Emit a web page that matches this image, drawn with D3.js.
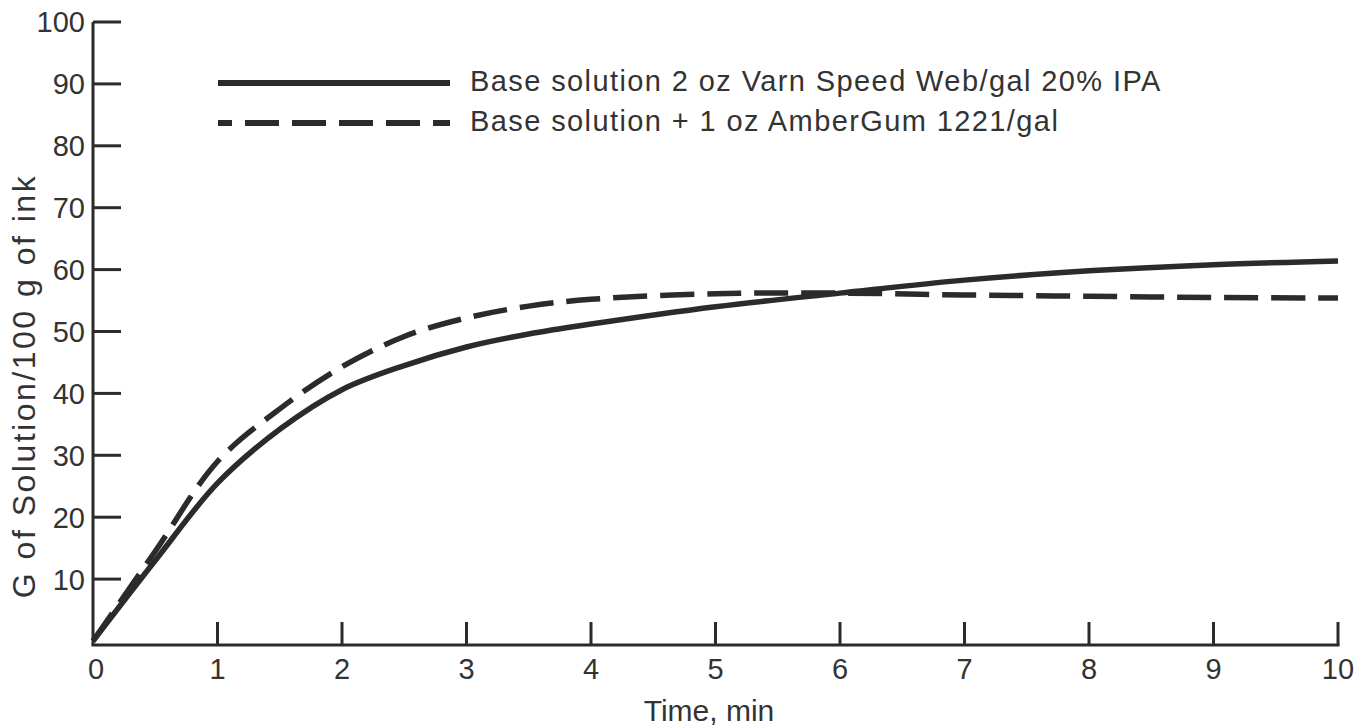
<!DOCTYPE html>
<html>
<head>
<meta charset="utf-8">
<script src="https://cdn.jsdelivr.net/npm/d3@7"></script>
<style>
  html, body { margin: 0; padding: 0; background: #fff; }
  svg { display: block; font-family: "Liberation Sans", Arial, Helvetica, sans-serif; }
</style>
</head>
<body>
<div id="chart"></div>
<script>
// Data
const time = [0, 0.5, 1, 1.5, 2, 2.5, 3, 3.5, 4, 5, 6, 7, 8, 9, 10];
const baseSolution = [0, 13, 25.5, 34.2, 40.6, 44.5, 47.5, 49.6, 51.2, 54.0, 56.2, 58.3, 59.8, 60.8, 61.4];
const withGum      = [0, 14.5, 29, 37.5, 44.3, 49.2, 52.2, 54.1, 55.2, 56.1, 56.2, 55.9, 55.7, 55.5, 55.4];
const xTicks = [0, 1, 2, 3, 4, 5, 6, 7, 8, 9, 10];
const yTicks = [10, 20, 30, 40, 50, 60, 70, 80, 90, 100];
const seriesNames = [
  'Base solution 2 oz Varn Speed Web/gal 20% IPA',
  'Base solution + 1 oz AmberGum 1221/gal'
];

const width = 1358, height = 728;
const ink = '#2b2b2b';
const dash = '34,13';

const svg = d3.select('#chart').append('svg')
  .attr('width', width)
  .attr('height', height);

// Scales
const x = d3.scaleLinear().domain([0, 10]).range([93, 1338]);
const y = d3.scaleLinear().domain([0, 100]).range([641, 22]);
const axisY = 645;

// Axis lines
svg.append('line')
  .attr('x1', x(0)).attr('x2', x(0))
  .attr('y1', y(100)).attr('y2', axisY)
  .attr('stroke', ink).attr('stroke-width', 3);
svg.append('line')
  .attr('x1', x(0) - 1.5).attr('x2', x(10) + 1.5)
  .attr('y1', axisY).attr('y2', axisY)
  .attr('stroke', ink).attr('stroke-width', 3);

// Y ticks (pointing inward) + labels
const yt = svg.append('g').selectAll('g').data(yTicks).join('g');
yt.append('line')
  .attr('x1', x(0)).attr('x2', x(0) + 28)
  .attr('y1', d => y(d)).attr('y2', d => y(d))
  .attr('stroke', ink).attr('stroke-width', 3);
yt.append('text')
  .attr('x', x(0) - 8)
  .attr('y', d => y(d))
  .attr('dy', '0.36em')
  .attr('text-anchor', 'end')
  .attr('font-size', 29)
  .attr('fill', '#333')
  .text(d => d);

// X ticks (pointing upward) + labels
const xt = svg.append('g').selectAll('g').data(xTicks).join('g');
xt.filter(d => d > 0).append('line')
  .attr('x1', d => x(d)).attr('x2', d => x(d))
  .attr('y1', axisY).attr('y2', axisY - 23)
  .attr('stroke', ink).attr('stroke-width', 3);
xt.append('text')
  .attr('x', d => x(d) + (d === 0 ? 3 : 0))
  .attr('y', 679)
  .attr('text-anchor', 'middle')
  .attr('font-size', 29)
  .attr('fill', '#333')
  .text(d => d);

// Axis titles
svg.append('text')
  .attr('x', 709).attr('y', 721)
  .attr('text-anchor', 'middle')
  .attr('font-size', 30)
  .attr('fill', '#333')
  .text('Time, min');

svg.append('text')
  .attr('transform', 'translate(35,386) rotate(-90)')
  .attr('text-anchor', 'middle')
  .attr('font-size', 32)
  .attr('letter-spacing', 2.5)
  .attr('fill', '#333')
  .text('G of Solution/100 g of ink');

// Curves
const line = d3.line()
  .x((d, i) => x(time[i]))
  .y(d => y(d))
  .curve(d3.curveCatmullRom.alpha(0.5));

svg.append('path')
  .datum(baseSolution)
  .attr('d', line)
  .attr('fill', 'none')
  .attr('stroke', ink)
  .attr('stroke-width', 5.5);

svg.append('path')
  .datum(withGum)
  .attr('d', line)
  .attr('fill', 'none')
  .attr('stroke', ink)
  .attr('stroke-width', 5.5)
  .attr('stroke-dasharray', dash);

// Legend
const legend = svg.append('g');
const legendY = [83, 123];
legend.selectAll('line').data(seriesNames).join('line')
  .attr('x1', 218).attr('x2', 450)
  .attr('y1', (d, i) => legendY[i]).attr('y2', (d, i) => legendY[i])
  .attr('stroke', ink)
  .attr('stroke-width', 6)
  .attr('stroke-dasharray', (d, i) => i === 1 ? dash : null)
  .attr('stroke-dashoffset', (d, i) => i === 1 ? 20 : null);
legend.selectAll('text').data(seriesNames).join('text')
  .attr('x', 470)
  .attr('y', (d, i) => legendY[i] + 8)
  .attr('font-size', 29)
  .attr('letter-spacing', 1.4)
  .attr('fill', '#333')
  .text(d => d);
</script>
</body>
</html>
